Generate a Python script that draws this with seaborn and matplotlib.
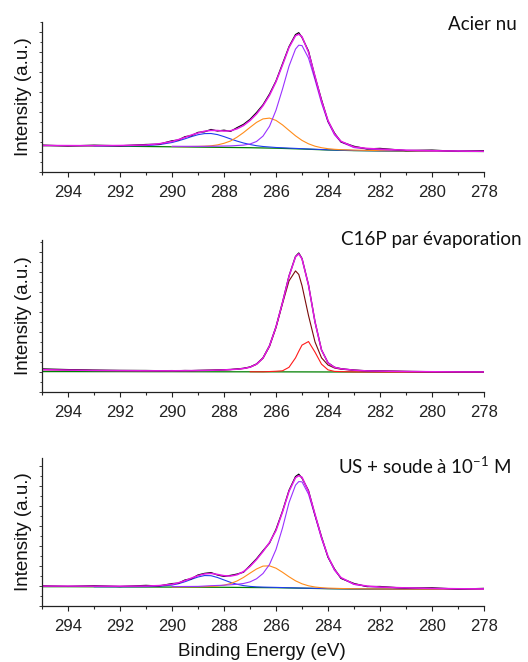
import matplotlib
matplotlib.use("Agg")
import matplotlib.pyplot as plt
from matplotlib.ticker import MultipleLocator, NullFormatter
import seaborn as sns

# binding energy grids (eV)
energy = [295, 294, 293, 292, 291, 290.5, 290, 289.75, 289.5, 289.25, 289, 288.75,
          288.5, 288.25, 288, 287.75, 287.5, 287.25, 287, 286.75, 286.5, 286.25, 286,
          285.75, 285.5, 285.25, 285.125, 285, 284.75, 284.5, 284.25, 284, 283.75,
          283.5, 283, 282.5, 282, 281, 280, 279, 278]
energy_base = [295, 294, 293, 292, 291, 290, 289, 288, 287, 286, 285, 284, 283, 282,
               281, 280, 279, 278]

# --- Acier nu ---
acier_data = [26.9, 26.0, 26.8, 26.2, 27.5, 27.8, 31.2, 32.0, 35.3, 36.4, 39.6, 40.2,
              42.5, 41.0, 41.8, 40.6, 44.3, 47.6, 52.6, 59.4, 67.2, 77.9, 91.0, 108.1,
              125.3, 137.4, 139.3, 134.6, 120.9, 95.1, 72.3, 50.8, 38.9, 30.1, 25.7,
              23.1, 23.6, 21.4, 21.9, 20.6, 21.2]
acier_fit = [26.5, 26.4, 26.3, 26.5, 27.0, 28.2, 30.5, 32.4, 34.6, 37.0, 39.0, 40.8,
             41.6, 41.5, 40.9, 41.2, 43.2, 46.5, 51.5, 58.0, 66.3, 76.7, 90.3, 107.0,
             124.5, 136.3, 137.8, 135.3, 119.8, 95.8, 71.2, 51.5, 38.1, 30.7, 25.0,
             23.6, 22.9, 21.8, 21.3, 20.9, 20.7]
acier_base = [26.3, 26.2, 26.0, 25.8, 25.5, 25.2, 24.9, 24.6, 24.3, 23.8, 23.0, 22.0,
              21.4, 21.1, 20.9, 20.7, 20.6, 20.5]
acier_cc_x = [290, 289, 288.5, 288, 287.75, 287.5, 287.25, 287, 286.75, 286.5, 286.25,
              286, 285.75, 285.5, 285.25, 285.125, 285, 284.75, 284.5, 284.25, 284,
              283.75, 283.5, 283, 282.5, 282, 281, 280, 279, 278]
acier_cc = [25.7, 25.65, 25.75, 26.0, 26.1, 26.5, 26.9, 28.0, 30.5, 35.9, 45.7, 61.8,
            82.9, 105.8, 122.9, 126.8, 126.4, 114.0, 92.2, 69.0, 50.0, 37.2, 29.9, 24.4,
            23.0, 22.3, 21.6, 21.2, 20.95, 20.8]
acier_co_x = [290, 289.5, 289, 288.75, 288.5, 288.25, 288, 287.75, 287.5, 287.25, 287,
              286.75, 286.5, 286.25, 286, 285.75, 285.5, 285.25, 285, 284.75, 284.5,
              284.25, 284, 283.75, 283.5, 283, 282, 281, 280, 279, 278]
acier_co = [25.5, 25.4, 25.6, 25.8, 26.2, 27.1, 28.7, 31.0, 34.8, 39.4, 44.6, 49.6,
            53.1, 53.9, 51.6, 47.1, 41.6, 36.2, 31.6, 28.2, 25.8, 24.3, 23.3, 22.7,
            22.3, 21.9, 21.4, 21.1, 20.9, 20.75, 20.6]
acier_oco_x = [293, 292, 291, 290.5, 290, 289.75, 289.5, 289.25, 289, 288.75, 288.5,
               288.25, 288, 287.75, 287.5, 287.25, 287, 286.75, 286.5, 286, 285.5, 285,
               284, 283, 282, 280, 278]
acier_oco = [26.2, 26.2, 26.4, 27.3, 29.5, 31.2, 33.2, 35.4, 37.3, 38.4, 38.5, 37.4,
             35.4, 33.1, 30.9, 29.0, 27.5, 26.3, 25.5, 24.5, 23.9, 23.3, 22.2, 21.5,
             21.2, 20.8, 20.6]

# --- C16P par évaporation ---
c16p_data = [23.1, 22.4, 21.9, 21.6, 21.5, 21.3, 21.4, 21.3, 21.5, 21.4, 21.6, 21.7,
             21.8, 22.0, 22.3, 22.5, 23.0, 23.7, 25.0, 28.0, 34.1, 46.3, 65.2, 89.6,
             116.0, 135.5, 139.0, 133.5, 107.1, 70.2, 42.1, 29.2, 24.7, 23.3, 21.9,
             21.2, 21.0, 20.6, 20.3, 20.2, 20.1]
c16p_fit = [22.3, 21.9, 21.55, 21.35, 21.2, 21.2, 21.2, 21.25, 21.3, 21.35, 21.45,
            21.55, 21.7, 21.9, 22.1, 22.4, 22.8, 23.5, 24.8, 27.8, 33.9, 46.1, 65.0,
            89.4, 115.7, 135.1, 138.2, 133.2, 106.9, 70.0, 42.0, 29.1, 24.6, 23.2, 21.8,
            21.1, 20.9, 20.5, 20.25, 20.1, 20.05]
c16p_base = [20.4, 20.4, 20.35, 20.35, 20.3, 20.3, 20.25, 20.2, 20.2, 20.15, 20.1,
             20.05, 20.0, 19.95, 19.9, 19.85, 19.8, 19.8]
c16p_ch2 = [22.3, 21.9, 21.55, 21.35, 21.2, 21.2, 21.2, 21.25, 21.3, 21.35, 21.45,
            21.55, 21.7, 21.9, 22.1, 22.4, 22.8, 23.5, 24.8, 27.7, 33.8, 45.5, 64.3,
            88.3, 111.1, 121.1, 117.6, 106.4, 76.5, 50.1, 34.2, 27.0, 24.0, 22.8, 21.75,
            21.1, 20.9, 20.5, 20.25, 20.1, 20.05]
c16p_cp_x = [287, 286.5, 286.25, 286, 285.75, 285.5, 285.25, 285.125, 285, 284.75,
             284.5, 284.25, 284, 283.75, 283.5, 283, 282, 280, 278]
c16p_cp = [20.25, 20.2, 20.45, 20.75, 21.2, 24.7, 34.1, 40.7, 46.9, 50.45, 39.85,
           27.85, 22.15, 20.6, 20.4, 20.1, 19.97, 19.87, 19.82]

# --- US + soude ---
soude_data = [20.2, 19.6, 20.3, 19.5, 20.6, 20.0, 22.4, 22.8, 26.0, 27.3, 31.0, 32.6,
              33.4, 31.0, 29.6, 30.6, 31.9, 33.8, 40.4, 47.2, 55.3, 62.9, 76.6, 94.8,
              115.6, 129.4, 131.8, 127.9, 115.4, 91.0, 69.3, 48.8, 37.0, 27.6, 22.5,
              19.4, 19.5, 17.7, 18.2, 16.9, 17.6]
soude_fit = [19.9, 19.9, 19.85, 19.8, 19.95, 20.4, 21.75, 23.2, 25.35, 27.9, 30.35,
             32.05, 32.6, 31.55, 30.3, 29.95, 31.25, 34.35, 39.55, 46.45, 54.5, 63.5,
             75.5, 94.0, 114.7, 128.3, 130.3, 128.75, 114.5, 91.8, 68.5, 49.6, 36.25,
             28.4, 21.85, 19.95, 18.95, 18.1, 17.6, 17.25, 17.15]
soude_base = [19.3, 19.3, 19.2, 19.1, 19.0, 18.9, 18.8, 18.7, 18.5, 18.3, 17.8, 17.3,
              17.0, 16.9, 16.8, 16.8, 16.7, 16.7]
soude_cc = [19.4, 19.6, 20.3, 20.8, 21.2, 21.7, 22.5, 24.1, 27.2, 32.5, 41.5, 56.5,
            78.0, 103.3, 120.8, 124.4, 124.2, 111.8, 90.2, 67.5, 48.9, 35.8, 28.0, 21.6,
            19.7, 18.8, 18.0, 17.55, 17.2, 17.1]
soude_co_x = [290, 289, 288.5, 288.25, 288, 287.75, 287.5, 287.25, 287, 286.75, 286.5,
              286.25, 286, 285.75, 285.5, 285.25, 285, 284.75, 284.5, 284.25, 284,
              283.5, 283, 282, 280, 278]
soude_co = [19.1, 19.25, 19.55, 19.95, 20.85, 22.45, 25.0, 28.55, 32.85, 37.0, 39.9,
            40.15, 37.8, 33.75, 29.25, 25.2, 22.2, 20.2, 19.0, 18.3, 17.9, 17.5, 17.25,
            17.0, 16.85, 16.75]
soude_oco = [19.3, 19.25, 19.4, 19.7, 20.95, 22.3, 24.3, 26.7, 29.0, 30.45, 30.3, 28.5,
             26.05, 23.65, 21.75, 20.4, 19.6, 19.15, 18.9, 18.6, 18.25, 17.95, 17.4,
             17.1, 16.95, 16.8, 16.7]

titles = ["Acier nu", "C16P par évaporation", r"US + soude à 10$^{\mathregular{-1}}$ M"]

BASE_C = "#008000"
FIT_C = "#e619e6"
CC_C = "#9a30ff"
CO_C = "#ff8c1a"
OCO_C = "#1f3cf0"
CH2_C = "#7a0a0a"
CP_C = "#ff1a1a"

panels = [
    dict(base=acier_base, data=acier_data, fit=acier_fit, ylim=150,
         comps=[(acier_oco_x, acier_oco, OCO_C), (acier_co_x, acier_co, CO_C),
                (acier_cc_x, acier_cc, CC_C)]),
    dict(base=c16p_base, data=c16p_data, fit=c16p_fit, ylim=152,
         comps=[(c16p_cp_x, c16p_cp, CP_C), (energy, c16p_ch2, CH2_C)]),
    dict(base=soude_base, data=soude_data, fit=soude_fit, ylim=148,
         comps=[(acier_oco_x, soude_oco, OCO_C), (soude_co_x, soude_co, CO_C),
                (acier_cc_x, soude_cc, CC_C)]),
]

sns.set_style("ticks")
plt.rcParams["font.family"] = ["Liberation Sans", "DejaVu Sans"]

W, H = 528, 662
fig = plt.figure(figsize=(W / 100, H / 100), dpi=100)

# axes boxes in pixels: left, top, right, bottom
boxes = [(42, 22, 484, 172), (42, 240, 484, 392), (42, 458, 484, 606)]
title_pos = [(517, 24), (522, 239), (511, 466)]

for i, (p, box) in enumerate(zip(panels, boxes)):
    l, t, r, b = box
    ax = fig.add_axes([l / W, 1 - b / H, (r - l) / W, (b - t) / H])
    sns.lineplot(x=energy_base, y=p["base"], ax=ax, color=BASE_C, linewidth=0.9)
    for cx, cy, col in p["comps"]:
        sns.lineplot(x=cx, y=cy, ax=ax, color=col, linewidth=0.8)
    sns.lineplot(x=energy, y=p["data"], ax=ax, color="black", linewidth=0.9)
    sns.lineplot(x=energy, y=p["fit"], ax=ax, color=FIT_C, linewidth=1.1)

    ax.set_xlim(295, 278)
    ax.set_ylim(0, p["ylim"])
    ax.xaxis.set_major_locator(MultipleLocator(2))
    ax.xaxis.set_minor_locator(MultipleLocator(1))
    ax.yaxis.set_major_locator(MultipleLocator(20))
    ax.yaxis.set_minor_locator(MultipleLocator(10))
    ax.yaxis.set_major_formatter(NullFormatter())
    ax.tick_params(axis="x", which="major", length=3.5, width=0.8, pad=6,
                   labelsize=12, colors="#222222")
    ax.tick_params(axis="x", which="minor", length=2, width=0.8)
    ax.tick_params(axis="y", which="major", length=2.5, width=0.6)
    ax.tick_params(axis="y", which="minor", length=1.5, width=0.6)
    for s in ["left", "bottom"]:
        ax.spines[s].set_linewidth(0.9)
        ax.spines[s].set_color("#222222")
    sns.despine(ax=ax)
    ax.set_ylabel("Intensity (a.u.)", fontsize=13.5, color="#111111")
    ax.yaxis.set_label_coords(-0.022, 0.5)
    ax.set_xlabel("")
    tx, ty = title_pos[i]
    fig.text(tx / W, 1 - ty / H, titles[i], ha="right", va="center",
             fontsize=13.5, family=["Lato", "DejaVu Sans"], color="#111111")

fig.text(262 / W, 1 - 652 / H, "Binding Energy (eV)", ha="center", va="center",
         fontsize=13.5, color="#111111")

fig.savefig("out.png", dpi=100)
